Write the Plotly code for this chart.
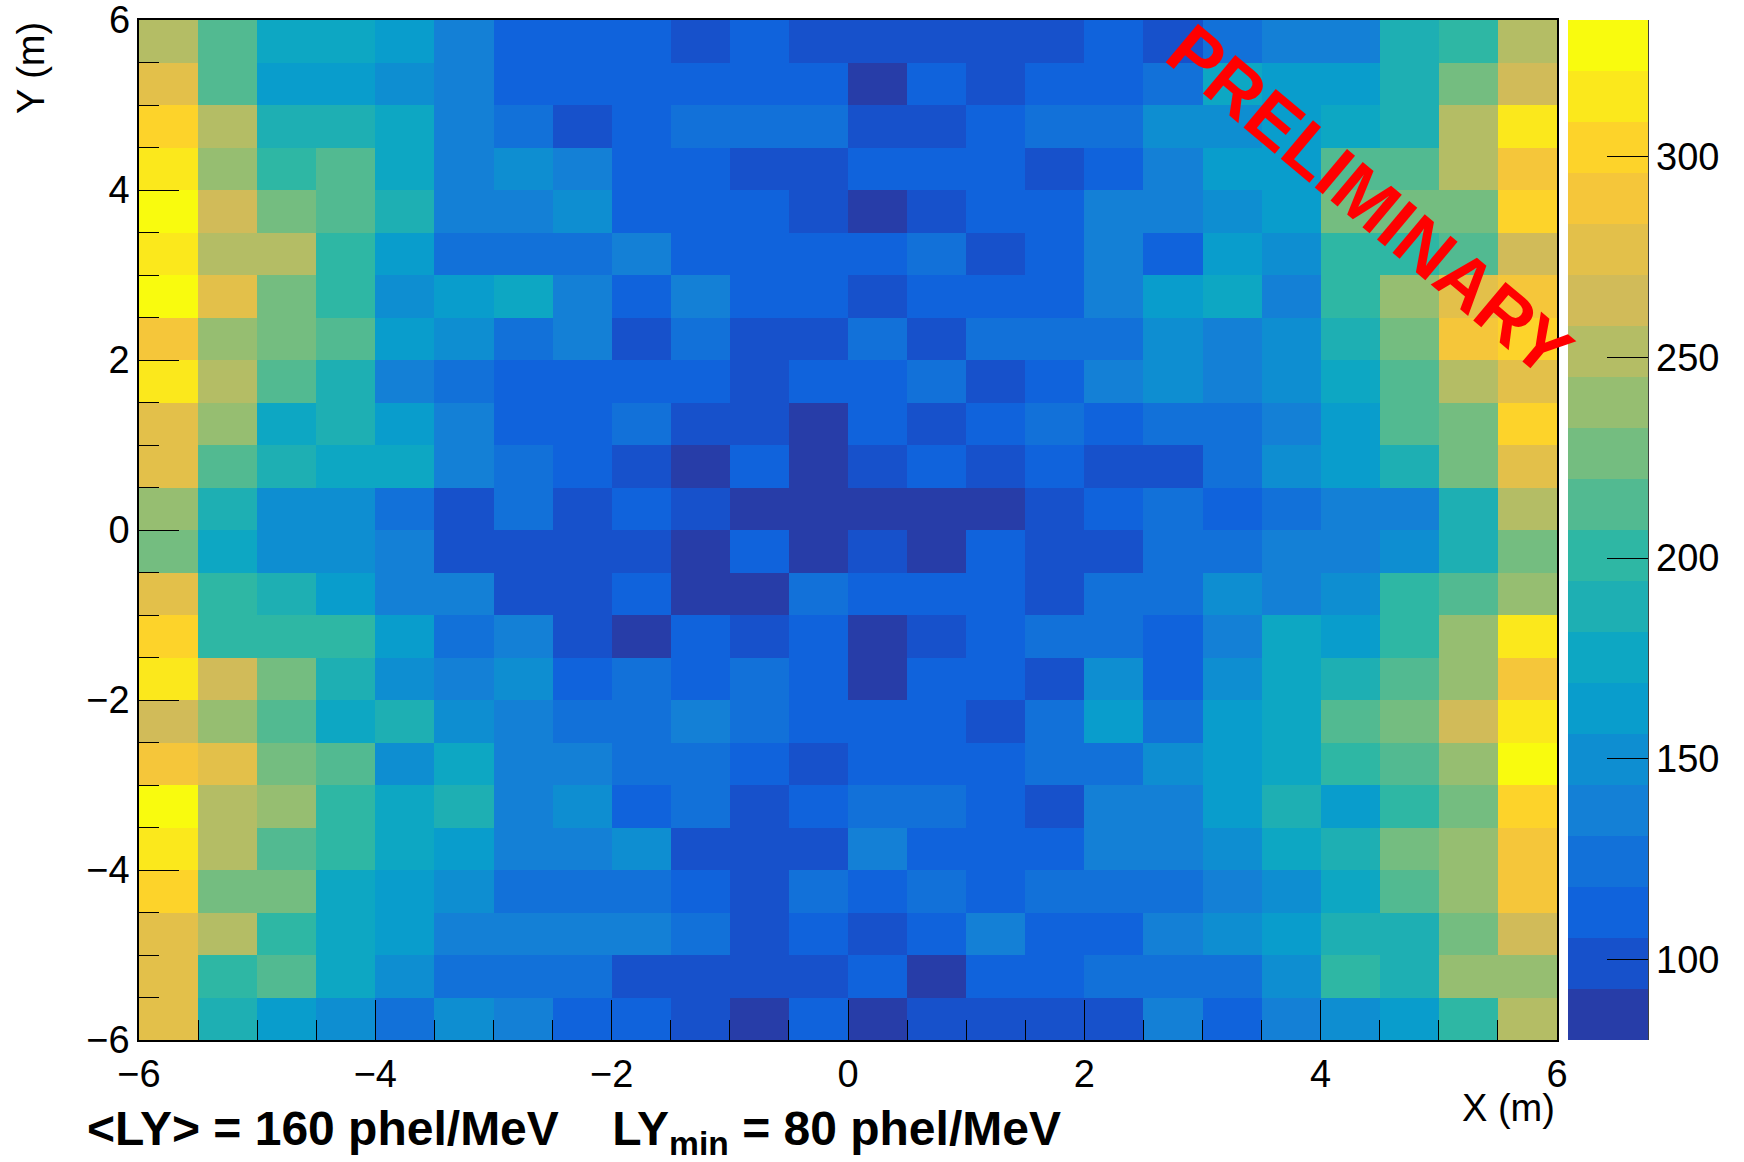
import plotly.graph_objects as go

# bin centres
x_centers = [-5.75, -5.25, -4.75, -4.25, -3.75, -3.25, -2.75, -2.25, -1.75, -1.25, -0.75, -0.25,
             0.25, 0.75, 1.25, 1.75, 2.25, 2.75, 3.25, 3.75, 4.25, 4.75, 5.25, 5.75]
y_centers = [5.75, 5.25, 4.75, 4.25, 3.75, 3.25, 2.75, 2.25, 1.75, 1.25, 0.75, 0.25,
             -0.25, -0.75, -1.25, -1.75, -2.25, -2.75, -3.25, -3.75, -4.25, -4.75, -5.25, -5.75]

# light yield (phel/MeV), rows from top (y=5.75) to bottom (y=-5.75)
ly = [
    [251,213,175,175,163,137,112,112,112,99,112,99, 99,99,99,99,112,99,124,137,137,188,201,251],
    [277,213,163,163,150,137,112,112,112,112,112,112, 86,112,99,112,112,124,175,163,163,188,226,264],
    [302,251,188,188,175,137,124,99,112,124,124,124, 99,99,112,124,124,150,150,163,175,188,251,315],
    [315,239,201,213,175,137,150,137,112,112,99,99, 112,112,112,99,112,137,163,163,213,213,251,290],
    [328,264,226,213,188,137,137,150,112,112,112,99, 86,99,112,112,137,137,150,163,226,226,226,302],
    [315,251,251,201,163,124,124,124,137,112,112,112, 112,124,99,112,137,112,163,150,201,201,213,264],
    [328,277,226,201,150,163,175,137,112,137,112,112, 99,112,112,112,137,163,175,137,201,239,277,290],
    [290,239,226,213,163,150,124,137,99,124,99,99, 124,99,124,124,124,150,137,150,188,226,290,302],
    [315,251,213,188,137,124,112,112,112,112,99,112, 112,124,99,112,137,150,137,150,175,213,251,277],
    [277,239,175,188,163,137,112,112,124,99,99,86, 112,99,112,124,112,124,124,137,163,213,226,302],
    [277,213,188,175,175,137,124,112,99,86,112,86, 99,112,99,112,99,99,124,150,163,188,226,277],
    [239,188,150,150,124,99,124,99,112,99,86,86, 86,86,86,99,112,124,112,124,137,137,188,251],
    [226,175,150,150,137,99,99,99,99,86,112,86, 99,86,112,99,99,124,124,137,137,150,188,226],
    [277,201,188,163,137,137,99,99,112,86,86,124, 112,112,112,99,124,124,150,137,150,201,213,239],
    [302,201,201,201,163,124,137,99,86,112,99,112, 86,99,112,124,124,112,137,175,163,201,239,315],
    [315,264,226,188,150,137,150,112,124,112,124,112, 86,112,112,99,150,112,150,175,188,213,239,290],
    [264,239,213,175,188,150,137,124,124,137,124,112, 112,112,99,124,163,124,163,175,213,226,264,315],
    [290,277,226,213,150,175,137,137,124,124,112,99, 112,112,112,124,124,150,163,175,201,213,239,328],
    [328,251,239,201,175,188,137,150,112,124,99,112, 124,124,112,99,137,137,163,188,163,201,226,302],
    [315,251,213,201,175,163,137,137,150,99,99,99, 137,112,112,112,137,137,150,175,188,226,239,290],
    [302,226,226,175,163,150,124,124,124,112,99,124, 112,124,112,124,124,124,137,150,175,213,239,290],
    [277,251,201,175,163,137,137,137,137,124,99,112, 99,112,137,112,112,137,150,163,188,188,226,264],
    [277,201,213,175,150,124,124,124,99,99,99,99, 112,86,112,112,124,124,124,150,201,188,239,239],
    [277,188,163,150,124,150,137,112,112,99,86,112, 86,99,99,99,99,137,112,137,150,163,201,251],
]

z_min = 80
z_max = 334
n_contours = 20
x_ticks = [-6, -4, -2, 0, 2, 4, 6]
y_ticks = [-6, -4, -2, 0, 2, 4]
y_top_label = "6"
cbar_ticks = [100, 150, 200, 250, 300]

# ROOT kBird palette
stops = [0.0, 0.125, 0.25, 0.375, 0.5, 0.625, 0.75, 0.875, 1.0]
red = [0.2082, 0.0592, 0.0780, 0.0232, 0.1802, 0.5301, 0.8186, 0.9956, 0.9764]
green = [0.1664, 0.3599, 0.5041, 0.6419, 0.7178, 0.7492, 0.7328, 0.7862, 0.9832]
blue = [0.5293, 0.8684, 0.8385, 0.7914, 0.6425, 0.4662, 0.3499, 0.1968, 0.0539]


def bird(f):
    f = min(max(f, 0.0), 1.0)
    for i in range(len(stops) - 1):
        if f <= stops[i + 1]:
            t = (f - stops[i]) / (stops[i + 1] - stops[i])
            r = red[i] + t * (red[i + 1] - red[i])
            g = green[i] + t * (green[i + 1] - green[i])
            b = blue[i] + t * (blue[i + 1] - blue[i])
            return "rgb(%d,%d,%d)" % (round(r * 255), round(g * 255), round(b * 255))
    return "rgb(249,251,14)"


colorscale = []
for i in range(n_contours):
    idx = int((i + 0.99) * 255 / n_contours)
    c = bird(idx / 254.0)
    colorscale.append([i / n_contours, c])
    colorscale.append([(i + 1) / n_contours, c])

FONT = "Liberation Sans, Arial, Helvetica, sans-serif"
W, H = 1744, 1162
ml, mr, mt, mb = 139, 187, 20, 122
plot_w = W - ml - mr

cb_left = 1568
cb_thick = 80
cb_x = (cb_left - ml) / plot_w
cb_right_x = (cb_left + cb_thick - ml) / plot_w

fig = go.Figure()
fig.add_trace(go.Heatmap(
    x=x_centers, y=y_centers, z=ly,
    zmin=z_min, zmax=z_max,
    colorscale=colorscale,
    hoverinfo="skip",
    colorbar=dict(
        x=cb_x, xanchor="left", y=0.5, yanchor="middle", len=1.0, lenmode="fraction",
        thickness=cb_thick, thicknessmode="pixels",
        xpad=0, ypad=0, outlinewidth=0,
        tickvals=cbar_ticks, ticks="inside", ticklen=41, tickwidth=1.2, tickcolor="black",
        tickfont=dict(family=FONT, size=38, color="black"),
    ),
))

fig.update_layout(
    width=W, height=H,
    margin=dict(l=ml, r=mr, t=mt, b=mb, autoexpand=False),
    paper_bgcolor="white", plot_bgcolor="white",
    showlegend=False,
    xaxis=dict(
        range=[-6, 6], tickvals=x_ticks, ticks="inside", ticklen=40, tickwidth=1.2,
        tickcolor="black", showline=True, linecolor="black", linewidth=1.5, mirror=True,
        showgrid=False, zeroline=False, automargin=False,
        tickfont=dict(family=FONT, size=38, color="black"),
        minor=dict(dtick=0.5, tick0=0, ticks="inside", ticklen=20, tickwidth=1.2, tickcolor="black"),
    ),
    yaxis=dict(
        range=[-6, 6], tickvals=y_ticks, ticks="inside", ticklen=40, tickwidth=1.2,
        tickcolor="black", showline=True, linecolor="black", linewidth=1.5, mirror=True,
        showgrid=False, zeroline=False, automargin=False,
        tickfont=dict(family=FONT, size=38, color="black"),
        minor=dict(dtick=0.5, tick0=0, ticks="inside", ticklen=20, tickwidth=1.2, tickcolor="black"),
    ),
)

# colorbar axis line
fig.add_shape(type="line", xref="paper", yref="paper", x0=cb_right_x, x1=cb_right_x, y0=0, y1=1,
              line=dict(color="black", width=1.5))

# top y tick label (drawn separately so it is not dropped at the page edge)
fig.add_annotation(text=y_top_label, xref="paper", yref="y", x=0, y=6, xanchor="right", yanchor="middle",
                   xshift=-7, showarrow=False, font=dict(family=FONT, size=38, color="black"))

# axis titles
fig.add_annotation(text="Y (m)", xref="paper", yref="paper", x=0, y=1, xanchor="center", yanchor="top",
                   xshift=-108, yshift=0, textangle=-90, showarrow=False,
                   font=dict(family=FONT, size=38, color="black"))
fig.add_annotation(text="X (m)", xref="paper", yref="paper", x=1, y=0, xanchor="right", yanchor="middle",
                   xshift=0, yshift=-68, showarrow=False,
                   font=dict(family=FONT, size=38, color="black"))

# bottom label
fig.add_annotation(text="<b>&lt;LY&gt; = 160 phel/MeV&nbsp;&nbsp;&nbsp;&nbsp;LY<sub>min</sub> = 80 phel/MeV</b>",
                   xref="paper", yref="paper", x=0, y=0, xanchor="left", yanchor="middle",
                   xshift=-54, yshift=-92, showarrow=False,
                   font=dict(family=FONT, size=48, color="black"))

# PRELIMINARY stamp
fig.add_annotation(text="<b>PRELIMINARY</b>", xref="x", yref="y", x=4.42, y=3.88,
                   textangle=40, showarrow=False,
                   font=dict(family=FONT, size=73, color="#ff0000"))

# remove the default 8px page margin so the figure fills the window exactly
fig.write_html("out.html", config={"displayModeBar": False},
               post_script="document.body.style.margin='0px';")
